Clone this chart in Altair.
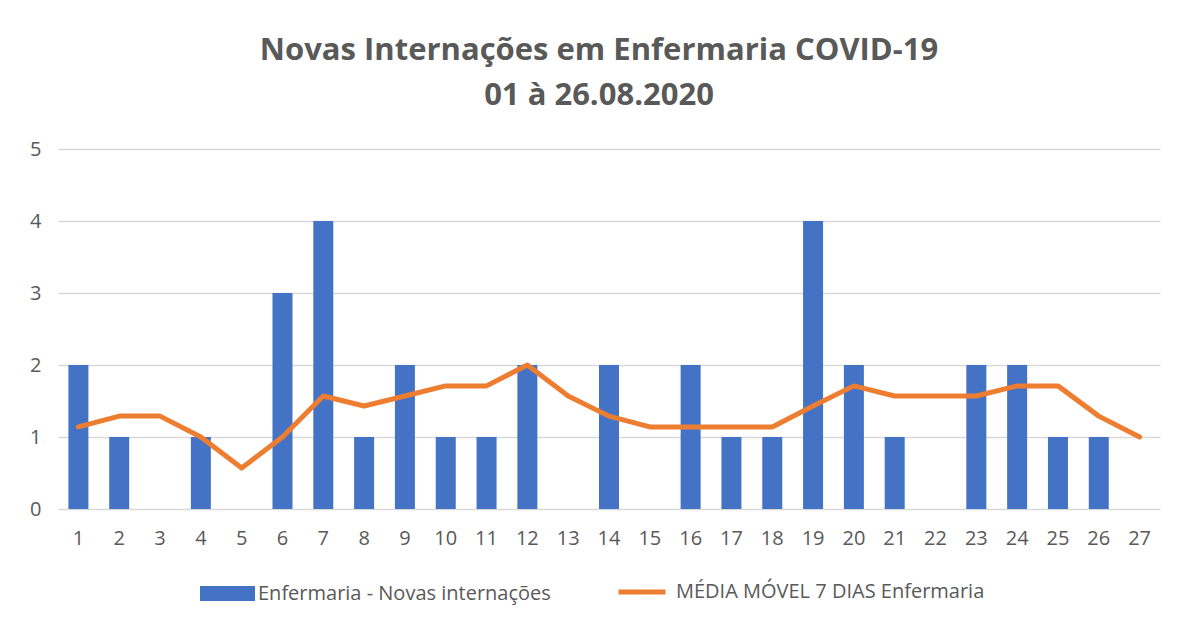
import altair as alt
import pandas as pd

days = [str(d) for d in range(1, 28)]
novas = [2, 1, 0, 1, 0, 3, 4, 1, 2, 1, 1, 2, 0, 2, 0, 2, 1, 1, 4, 2, 1, 0, 2, 2, 1, 1, 0]
media = [1.14, 1.29, 1.29, 1.0, 0.57, 1.0, 1.57, 1.43, 1.57, 1.71, 1.71, 2.0, 1.57, 1.29,
         1.14, 1.14, 1.14, 1.14, 1.43, 1.71, 1.57, 1.57, 1.57, 1.71, 1.71, 1.29, 1.0]
bar_name = "Enfermaria - Novas internações"
line_name = "MÉDIA MÓVEL 7 DIAS Enfermaria"

df = pd.DataFrame({"dia": days, "novas": novas, "media": media,
                   "s_bar": bar_name, "s_line": line_name})

FONT = "Open Sans"
GREY = "#595959"

x = alt.X("dia:N", sort=days, title=None,
          scale=alt.Scale(paddingInner=0.5, paddingOuter=0.25),
          axis=alt.Axis(labelAngle=0, labelFontSize=20, labelColor=GREY, labelFont=FONT,
                        labelPadding=19, ticks=False, domain=False, grid=False))

bars = alt.Chart(df).mark_bar(size=20).encode(
    x=x,
    y=alt.Y("novas:Q", title=None,
            scale=alt.Scale(domain=[0, 5], nice=False),
            axis=alt.Axis(values=[0, 1, 2, 3, 4, 5], format="d", labelFontSize=20,
                          labelColor=GREY, labelFont=FONT, labelPadding=17, ticks=False,
                          domain=False, gridColor="#d9d9d9", gridWidth=1.5)),
    color=alt.Color("s_bar:N", title=None,
                    scale=alt.Scale(domain=[bar_name], range=["#4472C4"]),
                    legend=alt.Legend(orient="none", legendX=142, legendY=417,
                                      symbolType="M-1,-0.27L1,-0.27L1,0.27L-1,0.27Z",
                                      symbolSize=3025, symbolStrokeWidth=0,
                                      labelFontSize=20, labelColor=GREY, labelFont=FONT,
                                      labelLimit=0, labelOffset=3, padding=0)),
)

line = alt.Chart(df).mark_line(strokeWidth=5, strokeCap="round", strokeJoin="round").encode(
    x=x,
    y=alt.Y("media:Q"),
    color=alt.Color("s_line:N", title=None,
                    scale=alt.Scale(domain=[line_name], range=["#ED7D31"]),
                    legend=alt.Legend(orient="none", legendX=558, legendY=417,
                                      symbolType="stroke", symbolSize=2209,
                                      symbolStrokeWidth=5,
                                      labelFontSize=20, labelColor=GREY, labelFont=FONT,
                                      labelLimit=0, labelOffset=8, padding=0)),
)

chart = alt.layer(bars, line).resolve_scale(color="independent").properties(
    width=1102, height=360,
    autosize=alt.AutoSizeParams(type="none"),
    padding={"left": 50, "top": 141, "right": 16, "bottom": 120},
    title=alt.TitleParams(["Novas Internações em Enfermaria  COVID-19", "01 à 26.08.2020"],
                          fontSize=31, fontWeight="bold", color=GREY, font=FONT,
                          lineHeight=45, anchor="middle", offset=27, dx=-10),
).configure_view(stroke=None)

chart.save("out.html", embed_options={"renderer": "svg", "actions": False})
